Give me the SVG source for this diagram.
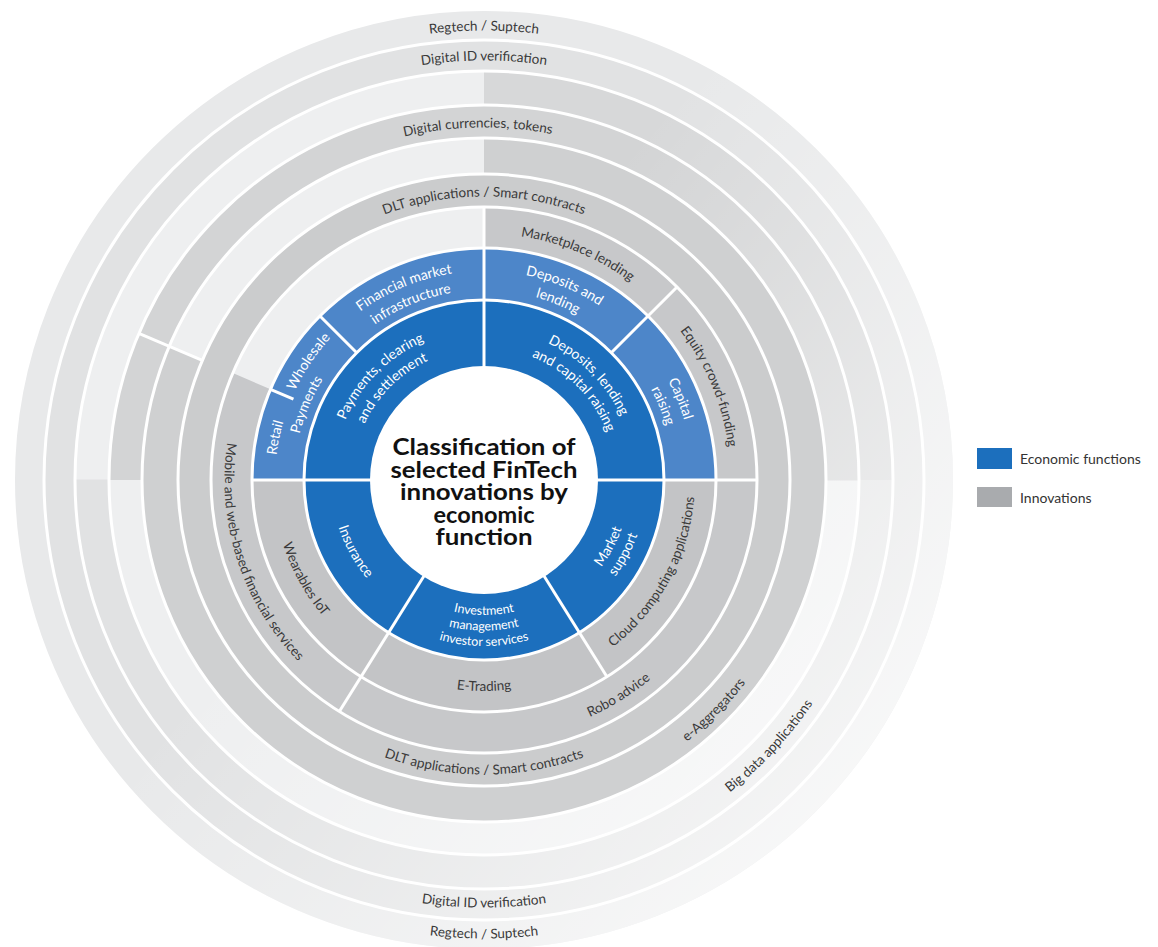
<svg xmlns="http://www.w3.org/2000/svg" width="1158" height="947" viewBox="0 0 1158 947">
<style>
.arc{fill:none}
.lbl{font-family:Lato,"Open Sans","Liberation Sans",sans-serif;font-size:13.5px;fill:#3a3a3a;text-anchor:middle}
.wl{font-family:Lato,"Open Sans","Liberation Sans",sans-serif;font-size:14px;fill:#ffffff;text-anchor:middle}
.ws{font-size:12.5px}
.ttl{font-family:Lato,"Liberation Sans",sans-serif;font-weight:700;font-size:22.5px;fill:#111111;text-anchor:middle}
.leg{font-family:Lato,"Liberation Sans",sans-serif;font-size:14px;fill:#333333}
.sep{stroke:#ffffff;stroke-width:3;fill:none}
.bd{stroke:#1c6fbd}
.bl{stroke:#4d86c9}
.gB{stroke:#c3c4c6}
.gC{stroke:#c7c8ca}
.lt{stroke:#eeeff0}
</style>
<defs>
<linearGradient id="fade" gradientUnits="userSpaceOnUse" x1="480" y1="330" x2="960" y2="720">
<stop offset="0" stop-color="#ffffff" stop-opacity="0"/>
<stop offset="1" stop-color="#ffffff" stop-opacity="0.7"/>
</linearGradient>
<path id="t449" d="M 484 929.5 A 449.5 449.5 0 1 1 484 30.5 A 449.5 449.5 0 1 1 484 929.5"/>
<path id="t419" d="M 484 899.5 A 419.5 419.5 0 1 1 484 60.5 A 419.5 419.5 0 1 1 484 899.5"/>
<path id="t352" d="M 484 832.5 A 352.5 352.5 0 1 1 484 127.5 A 352.5 352.5 0 1 1 484 832.5"/>
<path id="t283" d="M 484 763.5 A 283.5 283.5 0 1 1 484 196.5 A 283.5 283.5 0 1 1 484 763.5"/>
<path id="t246" d="M 484 726.5 A 246.5 246.5 0 1 1 484 233.5 A 246.5 246.5 0 1 1 484 726.5"/>
<path id="t209" d="M 484 689 A 209 209 0 1 1 484 271 A 209 209 0 1 1 484 689"/>
<path id="t190" d="M 484 670 A 190 190 0 1 1 484 290 A 190 190 0 1 1 484 670"/>
<path id="t151" d="M 484 631 A 151 151 0 1 1 484 329 A 151 151 0 1 1 484 631"/>
<path id="t132" d="M 484 612 A 132 132 0 1 1 484 348 A 132 132 0 1 1 484 612"/>
<path id="b458" d="M 484 21.5 A 458.5 458.5 0 1 0 484 938.5 A 458.5 458.5 0 1 0 484 21.5"/>
<path id="b427" d="M 484 52.5 A 427.5 427.5 0 1 0 484 907.5 A 427.5 427.5 0 1 0 484 52.5"/>
<path id="b397" d="M 484 82.5 A 397.5 397.5 0 1 0 484 877.5 A 397.5 397.5 0 1 0 484 82.5"/>
<path id="b331" d="M 484 149 A 331 331 0 1 0 484 811 A 331 331 0 1 0 484 149"/>
<path id="b294" d="M 484 185.5 A 294.5 294.5 0 1 0 484 774.5 A 294.5 294.5 0 1 0 484 185.5"/>
<path id="b259" d="M 484 220.5 A 259.5 259.5 0 1 0 484 739.5 A 259.5 259.5 0 1 0 484 220.5"/>
<path id="b211" d="M 484 269 A 211 211 0 1 0 484 691 A 211 211 0 1 0 484 269"/>
<path id="b166" d="M 484 314 A 166 166 0 1 0 484 646 A 166 166 0 1 0 484 314"/>
<path id="b163" d="M 484 317 A 163 163 0 1 0 484 643 A 163 163 0 1 0 484 317"/>
<path id="b153" d="M 484 327 A 153 153 0 1 0 484 633 A 153 153 0 1 0 484 327"/>
<path id="b150" d="M 484 329.5 A 150.5 150.5 0 1 0 484 630.5 A 150.5 150.5 0 1 0 484 329.5"/>
<path id="b146" d="M 484 334 A 146 146 0 1 0 484 626 A 146 146 0 1 0 484 334"/>
<path id="b135" d="M 484 345 A 135 135 0 1 0 484 615 A 135 135 0 1 0 484 345"/>
</defs>

<rect width="1158" height="947" fill="#ffffff"/>

<g id="fills">
<g id="regtech-ring"><circle class="arc" cx="484" cy="480" r="454.5" stroke="#e8e9ea" stroke-width="29"/></g>
<g id="digital-id-ring"><circle class="arc" cx="484" cy="480" r="424.5" stroke="#e1e2e3" stroke-width="31"/></g>
<g id="ring-g">
<circle class="arc lt" cx="484" cy="480" r="392" stroke-width="34"/>
<circle class="arc" cx="484" cy="480" r="392" stroke="#d7d8d9" stroke-width="34" stroke-dasharray="615.75 9999" transform="rotate(270 484 480)"/>
<circle id="big-data-arc" class="arc" cx="484" cy="480" r="392" stroke="#e1e2e3" stroke-width="34" stroke-dasharray="1231.51 9999"/>
</g>
<g id="ring-f">
<circle class="arc lt" cx="484" cy="480" r="358.5" stroke-width="33"/>
<circle id="digital-currencies-arc" class="arc" cx="484" cy="480" r="358.5" stroke="#d3d4d5" stroke-width="33" stroke-dasharray="1126.26 9999" transform="rotate(180 484 480)"/>
</g>
<g id="ring-e">
<circle class="arc lt" cx="484" cy="480" r="324" stroke-width="36"/>
<circle id="e-aggregators-arc" class="arc" cx="484" cy="480" r="324" stroke="#cfd0d1" stroke-width="36" stroke-dasharray="1656.88 9999" transform="rotate(270 484 480)"/>
</g>
<g id="dlt-ring"><circle class="arc" cx="484" cy="480" r="289.5" stroke="#cbcccd" stroke-width="33"/></g>
<g id="ring-c">
<circle class="arc lt" cx="484" cy="480" r="252.5" stroke-width="41"/>
<circle id="marketplace-arc" class="arc gC" cx="484" cy="480" r="252.5" stroke-width="41" stroke-dasharray="198.31 9999" transform="rotate(270 484 480)"/>
<circle id="equity-arc" class="arc gC" cx="484" cy="480" r="252.5" stroke-width="41" stroke-dasharray="198.31 9999" transform="rotate(315 484 480)"/>
<circle id="robo-arc" class="arc gC" cx="484" cy="480" r="252.5" stroke-width="41" stroke-dasharray="537.65 9999"/>
<circle id="mobile-arc" class="arc gC" cx="484" cy="480" r="252.5" stroke-width="41" stroke-dasharray="356.96 9999" transform="rotate(122 484 480)"/>
</g>
<g id="ring-b">
<circle id="retail-wholesale-arc" class="arc bl" cx="484" cy="480" r="206" stroke-width="52" stroke-dasharray="161.79 9999" transform="rotate(180 484 480)"/>
<circle id="fmi-arc" class="arc bl" cx="484" cy="480" r="206" stroke-width="52" stroke-dasharray="161.79 9999" transform="rotate(225 484 480)"/>
<circle id="deposits-arc" class="arc bl" cx="484" cy="480" r="206" stroke-width="52" stroke-dasharray="161.79 9999" transform="rotate(270 484 480)"/>
<circle id="capital-arc" class="arc bl" cx="484" cy="480" r="206" stroke-width="52" stroke-dasharray="161.79 9999" transform="rotate(315 484 480)"/>
<circle id="cloud-arc" class="arc gB" cx="484" cy="480" r="206" stroke-width="52" stroke-dasharray="208.53 9999"/>
<circle id="etrading-arc" class="arc gB" cx="484" cy="480" r="206" stroke-width="52" stroke-dasharray="230.10 9999" transform="rotate(58 484 480)"/>
<circle id="wearables-arc" class="arc gB" cx="484" cy="480" r="206" stroke-width="52" stroke-dasharray="208.53 9999" transform="rotate(122 484 480)"/>
</g>
<g id="ring-a">
<circle id="payments-arc" class="arc bd" cx="484" cy="480" r="146.5" stroke-width="67" stroke-dasharray="230.12 9999" transform="rotate(180 484 480)"/>
<circle id="deposits-lending-arc" class="arc bd" cx="484" cy="480" r="146.5" stroke-width="67" stroke-dasharray="230.12 9999" transform="rotate(270 484 480)"/>
<circle id="market-arc" class="arc bd" cx="484" cy="480" r="146.5" stroke-width="67" stroke-dasharray="148.30 9999"/>
<circle id="investment-arc" class="arc bd" cx="484" cy="480" r="146.5" stroke-width="67" stroke-dasharray="163.64 9999" transform="rotate(58 484 480)"/>
<circle id="insurance-arc" class="arc bd" cx="484" cy="480" r="146.5" stroke-width="67" stroke-dasharray="148.30 9999" transform="rotate(122 484 480)"/>
</g>
<circle class="arc" cx="484" cy="480" r="405.5" stroke="url(#fade)" stroke-width="127"/>
<circle cx="484" cy="480" r="114" fill="#ffffff"/>
</g>

<g id="connectors">
<circle class="sep" cx="484" cy="480" r="180"/>
<circle class="sep" cx="484" cy="480" r="232"/>
<circle class="sep" cx="484" cy="480" r="273"/>
<circle class="sep" cx="484" cy="480" r="306"/>
<circle class="sep" cx="484" cy="480" r="342"/>
<circle class="sep" cx="484" cy="480" r="375"/>
<circle class="sep" cx="484" cy="480" r="409"/>
<circle class="sep" cx="484" cy="480" r="440"/>
<line class="sep" x1="597" y1="480" x2="757" y2="480"/>
<line class="sep" x1="371" y1="480" x2="252" y2="480"/>
<line class="sep" x1="543.88" y1="575.83" x2="606.94" y2="676.75"/>
<line class="sep" x1="424.12" y1="575.83" x2="339.33" y2="711.52"/>
<line class="sep" x1="484" y1="367" x2="484" y2="207"/>
<line class="sep" x1="356.72" y1="352.72" x2="319.95" y2="315.95"/>
<line class="sep" x1="611.28" y1="352.72" x2="677.04" y2="286.96"/>
<line class="sep" x1="293.46" y1="399.12" x2="270.44" y2="389.35"/>
<line class="sep" x1="202.33" y1="360.44" x2="138.81" y2="333.48"/>
</g>

<g id="labels">
<g id="regtech"><text class="lbl"><textPath href="#t449" startOffset="50%">Regtech / Suptech</textPath></text>
<text class="lbl"><textPath href="#b458" startOffset="50%">Regtech / Suptech</textPath></text></g>
<g id="digital-id"><text class="lbl"><textPath href="#t419" startOffset="50%">Digital ID verification</textPath></text>
<text class="lbl"><textPath href="#b427" startOffset="50%">Digital ID verification</textPath></text></g>
<g id="digital-currencies"><text class="lbl" transform="rotate(-1 484 480)"><textPath href="#t352" startOffset="50%">Digital currencies, tokens</textPath></text></g>
<g id="dlt"><text class="lbl"><textPath href="#t283" startOffset="50%">DLT applications / Smart contracts</textPath></text>
<text class="lbl"><textPath href="#b294" startOffset="50%">DLT applications / Smart contracts</textPath></text></g>
<g id="marketplace-lending"><text class="lbl" transform="rotate(22.5 484 480)"><textPath href="#t246" startOffset="50%">Marketplace lending</textPath></text></g>
<g id="equity-crowd-funding"><text class="lbl" transform="rotate(67.5 484 480)"><textPath href="#t246" startOffset="50%">Equity crowd-funding</textPath></text></g>
<g id="mobile"><text class="lbl" transform="rotate(72 484 480)"><textPath href="#b259" startOffset="50%">Mobile and web-based financial services</textPath></text></g>
<g id="robo-advice"><text class="lbl" transform="rotate(-32 484 480)"><textPath href="#b259" startOffset="50%">Robo advice</textPath></text></g>
<g id="e-aggregators"><text class="lbl" transform="rotate(-45 484 480)"><textPath href="#b331" startOffset="50%">e-Aggregators</textPath></text></g>
<g id="big-data"><text class="lbl" transform="rotate(-47 484 480)"><textPath href="#b397" startOffset="50%">Big data applications</textPath></text></g>
<g id="wearables"><text class="lbl" transform="rotate(61 484 480)"><textPath href="#b211" startOffset="50%">Wearables IoT</textPath></text></g>
<g id="e-trading"><text class="lbl"><textPath href="#b211" startOffset="50%">E-Trading</textPath></text></g>
<g id="cloud"><text class="lbl" transform="rotate(-61.5 484 480)"><textPath href="#b211" startOffset="50%">Cloud computing applications</textPath></text></g>

<g id="fmi"><text class="wl" transform="rotate(-22.5 484 480)"><textPath href="#t209" startOffset="50%">Financial market</textPath></text>
<text class="wl" transform="rotate(-22.5 484 480)"><textPath href="#t190" startOffset="50%">infrastructure</textPath></text></g>
<g id="deposits-and-lending"><text class="wl" transform="rotate(22.5 484 480)"><textPath href="#t209" startOffset="50%">Deposits and</textPath></text>
<text class="wl" transform="rotate(22.5 484 480)"><textPath href="#t190" startOffset="50%">lending</textPath></text></g>
<g id="capital-raising"><text class="wl" transform="rotate(67.5 484 480)"><textPath href="#t209" startOffset="50%">Capital</textPath></text>
<text class="wl" transform="rotate(67.5 484 480)"><textPath href="#t190" startOffset="50%">raising</textPath></text></g>
<g id="retail-wholesale"><text class="wl" transform="rotate(-78.5 484 480)"><textPath href="#t209" startOffset="50%">Retail</textPath></text>
<text class="wl" transform="rotate(-56 484 480)"><textPath href="#t209" startOffset="50%">Wholesale</textPath></text>
<text class="wl" transform="rotate(-67 484 480)"><textPath href="#t190" startOffset="50%">Payments</textPath></text></g>

<g id="payments"><text class="wl" transform="rotate(-45 484 480)"><textPath href="#t151" startOffset="50%">Payments, clearing</textPath></text>
<text class="wl" transform="rotate(-45 484 480)"><textPath href="#t132" startOffset="50%">and settlement</textPath></text></g>
<g id="deposits-lending-capital"><text class="wl" transform="rotate(45 484 480)"><textPath href="#t151" startOffset="50%">Deposits, lending</textPath></text>
<text class="wl" transform="rotate(45 484 480)"><textPath href="#t132" startOffset="50%">and capital raising</textPath></text></g>
<g id="insurance"><text class="wl" transform="rotate(61 484 480)"><textPath href="#b153" startOffset="50%">Insurance</textPath></text></g>
<g id="investment"><text class="wl ws"><textPath href="#b135" startOffset="50%">Investment</textPath></text>
<text class="wl ws"><textPath href="#b150" startOffset="50%">management</textPath></text>
<text class="wl ws"><textPath href="#b166" startOffset="50%">investor services</textPath></text></g>
<g id="market-support"><text class="wl" transform="rotate(-62 484 480)"><textPath href="#b146" startOffset="50%">Market</textPath></text>
<text class="wl" transform="rotate(-62 484 480)"><textPath href="#b163" startOffset="50%">support</textPath></text></g>
</g>

<g id="title">
<text class="ttl" x="484" y="455" textLength="183" lengthAdjust="spacingAndGlyphs">Classification of</text>
<text class="ttl" x="484" y="477.5" textLength="187" lengthAdjust="spacingAndGlyphs">selected FinTech</text>
<text class="ttl" x="484" y="500" textLength="168" lengthAdjust="spacingAndGlyphs">innovations by</text>
<text class="ttl" x="484" y="522.5" textLength="101" lengthAdjust="spacingAndGlyphs">economic</text>
<text class="ttl" x="484" y="545" textLength="97" lengthAdjust="spacingAndGlyphs">function</text>
</g>

<g id="legend">
<rect x="977" y="448" width="35" height="21" fill="#1c6fbd"/>
<text class="leg" x="1020" y="463.5">Economic functions</text>
<rect x="977" y="487" width="35" height="20" fill="#a9abae"/>
<text class="leg" x="1020" y="502.5">Innovations</text>
</g>
</svg>
